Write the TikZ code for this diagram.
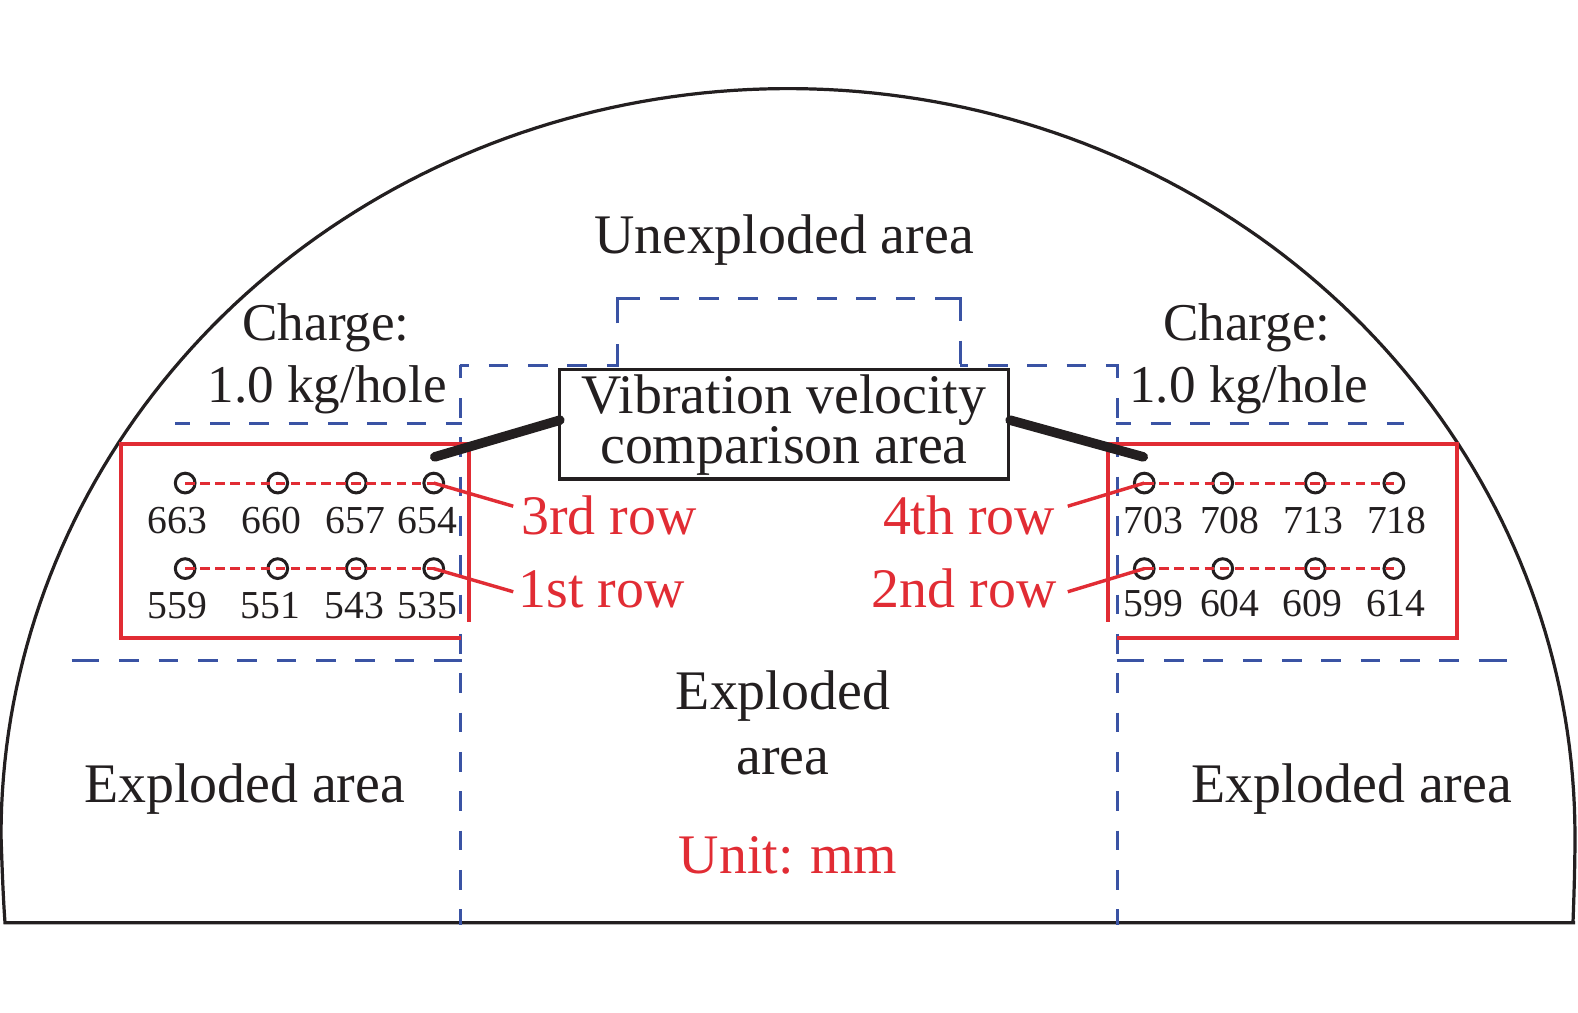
\documentclass[tikz,border=0pt]{standalone}
\usepackage{fontspec}
\setmainfont{Liberation Serif}
\definecolor{ink}{HTML}{231F20}
\definecolor{bl}{HTML}{3A53A4}
\definecolor{rd}{HTML}{E12C34}
\newcommand{\fs}[1]{\fontsize{#1}{#1}\selectfont}
\tikzset{
 x=1pt,y=-1pt,
 lab/.style={anchor=base,inner sep=0pt,text=ink,font=\fs{55.5}},
 chargelab/.style={lab,font=\fs{52.8}},
 redlab/.style={lab,text=rd},
 num/.style={anchor=base,inner sep=0pt,text=ink,font=\fs{39.4}},
 hole/.style={circle,draw=ink,line width=3pt,minimum size=19.6pt,inner sep=0pt},
 bluebase/.style={draw=bl,line width=2.9pt},
 bluedash/.style={bluebase,dash pattern=on 19.5pt off 19.58pt},
 redbox/.style={draw=rd,line width=3.8pt},
 reddash/.style={draw=rd,line width=2.9pt,dash pattern=on 9.5pt off 5.5pt},
 redline/.style={draw=rd,line width=3.4pt},
 thick link/.style={draw=ink,line width=9.5pt,line cap=round},
}
\begin{document}
\begin{tikzpicture}
\useasboundingbox (0,0) rectangle (1568,1005.6);
% tunnel outline
\draw[ink,line width=3.2pt] (1565,917) -- (5,917) .. controls (3,890) and (2,860) .. (1,830)
  plot[domain=180:0,samples=160] ({783+782*cos(\x)},{830-742*sin(\x)})
  .. controls (1565,860) and (1564,890) .. (1563,917);
% blue dashed zones
\draw[bluedash,dash phase=6.6pt] (458,363) -- (458,919);
\draw[bluedash,dash phase=6.6pt] (1110,363) -- (1110,919);
\draw[bluedash,dash phase=10pt] (456.6,363) -- (614,363);
\draw[bluedash,dash phase=11.4pt] (954,363) -- (1111.4,363);
\draw[bluebase,miter limit=10,dash pattern=on 23pt off 20pt on 46pt off 20pt
   on 19.5pt off 19.58pt on 19.5pt off 19.58pt on 19.5pt off 19.58pt on 19.5pt off 19.58pt
   on 19.5pt off 19.58pt on 19.5pt off 19.58pt on 19.5pt off 19.58pt
   on 46.4pt off 20pt on 23pt off 20pt]
   (614,364.4) -- (614,297) -- (954,297) -- (954,364.4);
\draw[bluedash,dash phase=4.4pt] (174,421) -- (459.4,421);
\draw[bluebase,dash pattern=on 27.5pt off 19.9pt
   on 19.5pt off 19.58pt on 19.5pt off 19.58pt on 19.5pt off 19.58pt on 19.5pt off 19.58pt
   on 19.5pt off 19.58pt on 19.5pt off 19.58pt on 19.5pt off 19.58pt on 19.5pt off 19.58pt
   on 30pt off 20pt] (71.2,656) -- (459.4,656);
\draw[bluedash,dash phase=4.1pt] (1108.6,421) -- (1395,421);
\draw[bluebase,dash pattern=on 27.2pt off 20pt
   on 19.5pt off 19.58pt on 19.5pt off 19.58pt on 19.5pt off 19.58pt on 19.5pt off 19.58pt
   on 19.5pt off 19.58pt on 19.5pt off 19.58pt on 19.5pt off 19.58pt on 19.5pt off 19.58pt
   on 30pt off 20pt] (1109.5,656) -- (1497,656);
% red frames
\draw[redbox] (458,634) -- (120,634) -- (120,441) -- (466,441) -- (466,618);
\draw[redbox] (1101,618) -- (1101,441) -- (1448,441) -- (1448,634) -- (1110,634);
% holes
\foreach \n/\px/\py in {a/184/480,b/276/480,c/354/480,d/431/480,e/184/565,f/276/565,g/354/565,h/431/565,
  i/1137/480,j/1215/480,k/1307/480,l/1385/480,m/1137/565,n/1215/565,o/1307/565,p/1385/565}
  \node[hole] (\n) at (\px,\py) {};
\draw[reddash] (a.center) -- (d.center);
\draw[reddash] (e.center) -- (h.center);
\draw[reddash] (i.center) -- (l.center);
\draw[reddash] (m.center) -- (p.center);
% numbers
\foreach \t/\px/\py in {663/176/530,660/270/530,657/353/530,654/425/530,559/176/615,551/269/615,543/352/615,535/425/615,
  703/1146/530,708/1222/530,713/1305/530,718/1388/530,599/1146/613,604/1222/613,609/1304/613,614/1387/613}
  \node[num] (n\t) at (\px,\py) {\t};
% texts
\node[lab] (unexploded) at (779,252) {Unexploded area};
\node[chargelab] (chargeL) at (324,338) {Charge:};
\node[chargelab] (holeL) at (325,400) {1.0 kg/hole};
\node[chargelab] (chargeR) at (1239,338) {Charge:};
\node[chargelab] (holeR) at (1241,400) {1.0 kg/hole};
\node[lab] (expC) at (778,705) {Exploded};
\node[lab] (expD) at (778,770) {area};
\node[lab] (expL) at (243,797) {Exploded area};
\node[lab] (expR) at (1343,797) {Exploded area};
\node[redlab] (unit) at (783,868) {Unit:\hspace{-2pt} mm};
\node[redlab] (r3) at (605,531) {3rd row};
\node[redlab] (r1) at (598,604) {1st row};
\node[redlab] (r4) at (963,531) {4th row};
\node[redlab] (r2) at (958,604) {2nd row};
% red leaders
\coordinate (l3) at (510,503); \coordinate (l1) at (510,588);
\coordinate (l4) at (1061,503); \coordinate (l2) at (1061,588);
\draw[redline] (d.center) -- (l3);
\draw[redline] (h.center) -- (l1);
\draw[redline] (i.center) -- (l4);
\draw[redline] (m.center) -- (l2);
% comparison box with its two-line text
\node[draw=ink,fill=white,line width=3.4pt,minimum width=446pt,minimum height=109pt,inner sep=0pt,
  text=ink,align=center,font=\fontsize{55.5}{47}\selectfont] (box) at (779,421.5)
  {\rule{0pt}{39.9pt}Vibration velocity\\comparison area};
\coordinate (tL) at (432,454);
\coordinate (tR) at (1136,454);
\draw[thick link] (box.west) ++(2,-4) coordinate (bL) (bL) -- (tL);
\draw[thick link] (box.east) ++(0,-4) coordinate (bR) (bR) -- (tR);
\end{tikzpicture}
\end{document}
